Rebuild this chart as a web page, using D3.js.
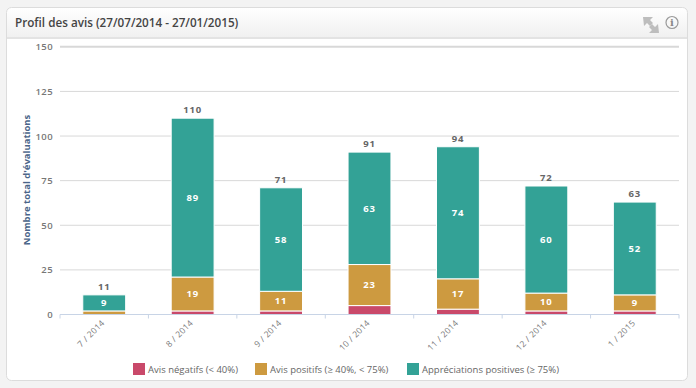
<!DOCTYPE html>
<html>
<head>
<meta charset="utf-8">
<script src="https://cdn.jsdelivr.net/npm/d3@7/dist/d3.min.js"></script>
<style>
  html, body { margin: 0; padding: 0; background: #f3f3f3; }
  svg { display: block; font-family: "Open Sans", sans-serif; }
</style>
</head>
<body>
<svg id="chart" width="696" height="388"></svg>
<script>
// data
const months = ["7 / 2014", "8 / 2014", "9 / 2014", "10 / 2014", "11 / 2014", "12 / 2014", "1 / 2015"];
const negatifs = [0, 2, 2, 5, 3, 2, 2];
const positifs = [2, 19, 11, 23, 17, 10, 9];
const appreciations = [9, 89, 58, 63, 74, 60, 52];
const totals = [11, 110, 71, 91, 94, 72, 63];
const yTicks = [0, 25, 50, 75, 100, 125, 150];
const seriesNames = ["Avis négatifs (< 40%)", "Avis positifs (≥ 40%, < 75%)", "Appréciations positives (≥ 75%)"];
const seriesColors = ["#c9496a", "#cd9a40", "#33a296"];

const svg = d3.select("#chart");

// carte
const defs = svg.append("defs");
const grad = defs.append("linearGradient").attr("id", "head").attr("x1", 0).attr("x2", 0).attr("y1", 0).attr("y2", 1);
grad.append("stop").attr("offset", "0%").attr("stop-color", "#ffffff");
grad.append("stop").attr("offset", "100%").attr("stop-color", "#f0f0f0");
defs.append("clipPath").attr("id", "card").append("rect")
  .attr("x", 6.5).attr("y", 7.5).attr("width", 681).attr("height", 373).attr("rx", 5);

svg.append("rect").attr("x", 6.5).attr("y", 7.5).attr("width", 681).attr("height", 373)
  .attr("rx", 5).attr("fill", "#fff");

const head = svg.append("g").attr("clip-path", "url(#card)");
head.append("rect").attr("x", 6).attr("y", 8).attr("width", 682).attr("height", 29).attr("fill", "url(#head)");
head.append("rect").attr("x", 6).attr("y", 37).attr("width", 682).attr("height", 2).attr("fill", "#e3e3e3");
svg.append("rect").attr("x", 6.5).attr("y", 7.5).attr("width", 681).attr("height", 373)
  .attr("rx", 5).attr("fill", "none").attr("stroke", "#dcdcdc");

svg.append("text").attr("x", 15).attr("y", 27).attr("font-size", 11.7).attr("font-weight", 600)
  .attr("fill", "#444").text("Profil des avis (27/07/2014 - 27/01/2015)");

// icones
const icons = svg.append("g").attr("fill", "#bdbdbd");
icons.append("path").attr("d", "M643 17h10l-3 3 3 3-3 3-3-3-3 3z");
icons.append("path").attr("d", "M659 33h-10l3-3-3-3 3-3 3 3 3-3z");
svg.append("circle").attr("cx", 672).attr("cy", 22.5).attr("r", 6).attr("fill", "none").attr("stroke", "#9a9a9a").attr("stroke-width", 1.2);
svg.append("text").attr("x", 672).attr("y", 26).attr("text-anchor", "middle").attr("font-size", 10).attr("font-weight", 700).attr("font-family", "DejaVu Serif").attr("fill", "#888").text("i");

// scales
const x = d3.scaleBand().domain(months).range([60, 679]).paddingInner(0.515).paddingOuter(0.2575);
const y = d3.scaleLinear().domain([0, 150]).range([314.5, 46.8]);

// grille
const grid = svg.append("g");
grid.selectAll("line").data(yTicks.filter(d => d > 0)).join("line")
  .attr("x1", 60).attr("x2", 679)
  .attr("y1", d => y(d)).attr("y2", d => y(d))
  .attr("stroke", "#d8d8d8")
  .attr("stroke-width", d => d === 150 ? 2 : 1);

// axe y
const yAxis = svg.append("g").attr("transform", "translate(60,0)")
  .call(d3.axisLeft(y).tickValues(yTicks).tickSize(0).tickPadding(7));
yAxis.select(".domain").remove();
yAxis.selectAll("text").attr("font-size", 9.5).attr("font-weight", 600).attr("letter-spacing", 0.4).attr("fill", "#777").attr("font-family", "Open Sans");

svg.append("text").attr("transform", "translate(30,180) rotate(-90)").attr("text-anchor", "middle")
  .attr("font-size", 9.5).attr("font-weight", 700).attr("fill", "#4a6488")
  .text("Nombre total d'évaluations");

// barres empilees
const rows = months.map((m, i) => ({ month: m, neg: negatifs[i], pos: positifs[i], app: appreciations[i] }));
const layers = d3.stack().keys(["neg", "pos", "app"])(rows);

const barGroups = svg.append("g").selectAll("g").data(layers).join("g")
  .attr("fill", (d, i) => seriesColors[i]);
barGroups.selectAll("rect").data(d => d).join("rect")
  .attr("x", d => x(d.data.month))
  .attr("width", x.bandwidth())
  .attr("y", d => y(d[1]))
  .attr("height", d => Math.max(0, y(d[0]) - y(d[1])))
  .attr("stroke", "#fff")
  .attr("stroke-width", 1);

// valeurs
const labels = svg.append("g").attr("text-anchor", "middle").attr("font-size", 9.5).attr("font-weight", 700).attr("fill", "#fff");
[1, 2].forEach(k => {
  labels.selectAll(null).data(layers[k]).join("text")
    .attr("x", d => x(d.data.month) + x.bandwidth() / 2)
    .attr("y", d => (y(d[0]) + y(d[1])) / 2 + 3.2)
    .attr("letter-spacing", 0.8)
    .text(d => d[1] - d[0] >= 5 ? d[1] - d[0] : "");
});
svg.append("g").attr("text-anchor", "middle").attr("font-size", 9.5).attr("font-weight", 700).attr("fill", "#666")
  .selectAll("text").data(totals).join("text")
  .attr("x", (d, i) => x(months[i]) + x.bandwidth() / 2)
  .attr("y", d => y(d) - 5)
  .attr("letter-spacing", 0.8)
  .text(d => d);

// axe x
const tickX = d3.scaleLinear().domain([0, months.length]).range([60, 679]);
const xAxis = svg.append("g").attr("transform", "translate(0,314.5)");
xAxis.append("line").attr("x1", 60).attr("x2", 679).attr("stroke", "#c8d4e6");
xAxis.selectAll(".t").data(d3.range(months.length + 1)).join("line").attr("class", "t")
  .attr("x1", d => tickX(d)).attr("x2", d => tickX(d)).attr("y1", 0).attr("y2", 4)
  .attr("stroke", "#c8d4e6");
xAxis.selectAll("text").data(months).join("text")
  .attr("transform", d => `translate(${x(d) + x.bandwidth() / 2 + 1},${9}) rotate(-45)`)
  .attr("text-anchor", "end")
  .attr("font-size", 8.5).attr("letter-spacing", 0.3).attr("fill", "#777")
  .text(d => d);

// legende
const legendX = [133, 255, 407];
const legend = svg.append("g").selectAll("g").data(seriesNames).join("g")
  .attr("transform", (d, i) => `translate(${legendX[i]},363)`);
legend.append("rect").attr("width", 12).attr("height", 12).attr("fill", (d, i) => seriesColors[i]);
legend.append("text").attr("x", 15).attr("y", 10).attr("font-size", 9.5).attr("fill", "#666").text(d => d);
</script>
</body>
</html>
